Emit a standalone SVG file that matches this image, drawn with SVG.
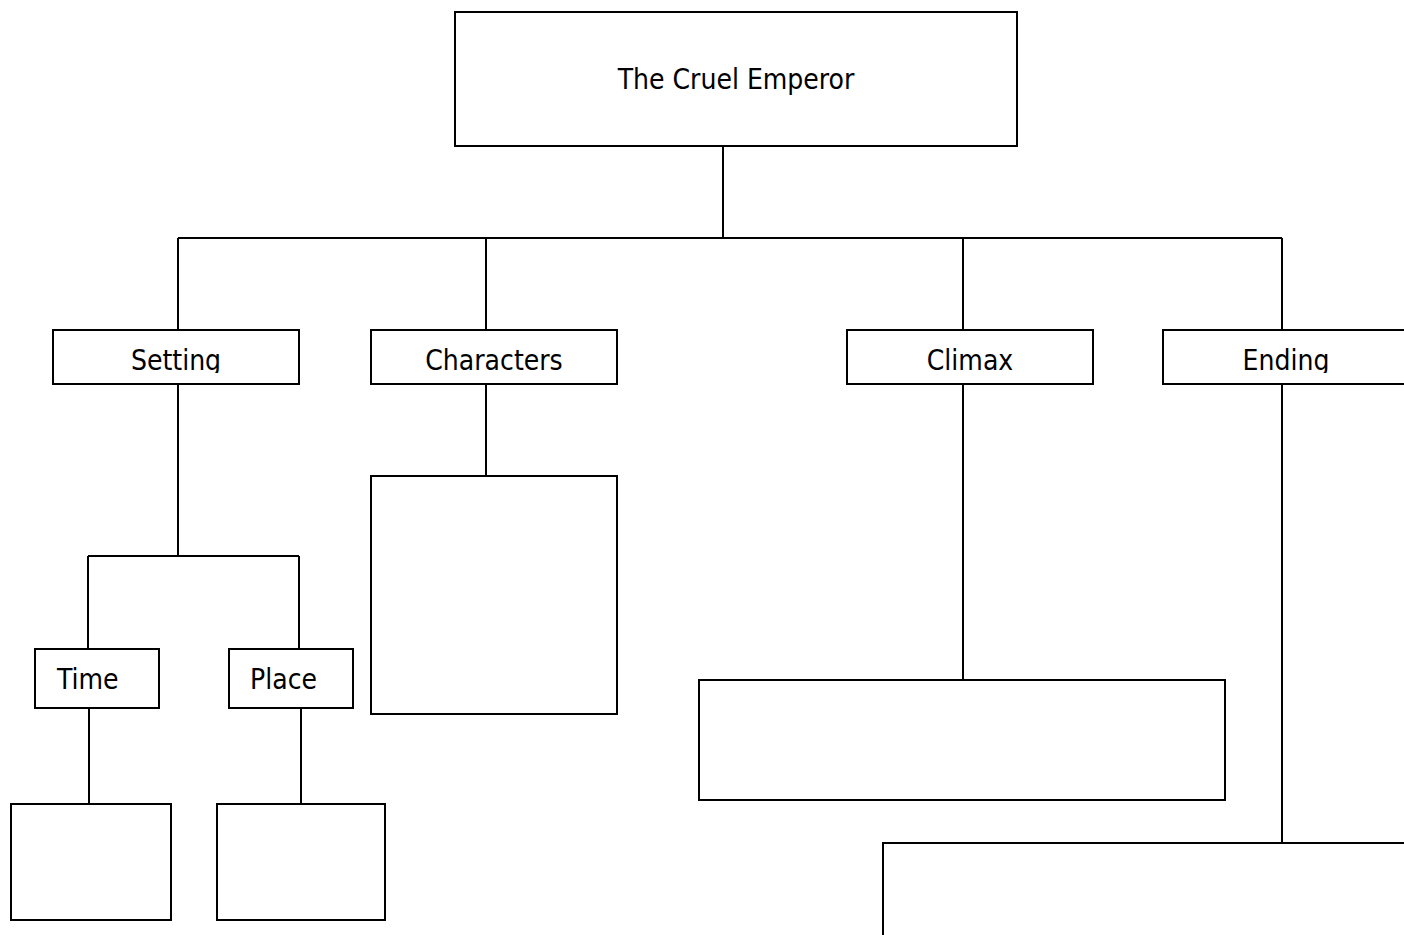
<svg xmlns="http://www.w3.org/2000/svg" width="1404" height="935" viewBox="0 0 1404 935">
<style>
.box{fill:#fff;stroke:#000;stroke-width:2}
.ln{fill:none;stroke:#000;stroke-width:2}
.t{font-family:"DejaVu Sans Condensed","DejaVu Sans",sans-serif;font-stretch:condensed;font-size:28px;fill:#000}
.c{text-anchor:middle}
</style>
<defs>
<clipPath id="rowclip"><rect x="0" y="330" width="1404" height="43"/></clipPath>
</defs>
<rect width="1404" height="935" fill="#fff"/>
<g id="connectors">
<path class="ln" d="M723 146V238M178 238H1282M178 238V330M486 238V330M963 238V330M1282 238V330"/>
<path class="ln" d="M178 384V556M88 556H299M88 556V649M299 556V649"/>
<path class="ln" d="M89 708V804M301 708V804"/>
<path class="ln" d="M486 384V476"/>
<path class="ln" d="M963 384V680"/>
<path class="ln" d="M1282 384V843"/>
</g>
<g id="n-root"><rect class="box" x="455" y="12" width="562" height="134"/><text class="t c" x="736" y="89">The Cruel Emperor</text></g>
<g id="n-setting"><rect class="box" x="53" y="330" width="246" height="54"/><text class="t c" x="176" y="370" clip-path="url(#rowclip)">Setting</text></g>
<g id="n-characters"><rect class="box" x="371" y="330" width="246" height="54"/><text class="t c" x="494" y="370" clip-path="url(#rowclip)">Characters</text></g>
<g id="n-climax"><rect class="box" x="847" y="330" width="246" height="54"/><text class="t c" x="970" y="370" clip-path="url(#rowclip)">Climax</text></g>
<g id="n-ending"><rect class="box" x="1163" y="330" width="246" height="54"/><text class="t c" x="1286" y="370" clip-path="url(#rowclip)">Ending</text></g>
<g id="n-time"><rect class="box" x="35" y="649" width="124" height="59"/><text class="t" x="57" y="689">Time</text></g>
<g id="n-place"><rect class="box" x="229" y="649" width="124" height="59"/><text class="t" x="250" y="689">Place</text></g>
<g id="n-time-box"><rect class="box" x="11" y="804" width="160" height="116"/></g>
<g id="n-place-box"><rect class="box" x="217" y="804" width="168" height="116"/></g>
<g id="n-characters-box"><rect class="box" x="371" y="476" width="246" height="238"/></g>
<g id="n-climax-box"><rect class="box" x="699" y="680" width="526" height="120"/></g>
<g id="n-ending-box"><rect class="box" x="883" y="843" width="540" height="120"/></g>
</svg>
